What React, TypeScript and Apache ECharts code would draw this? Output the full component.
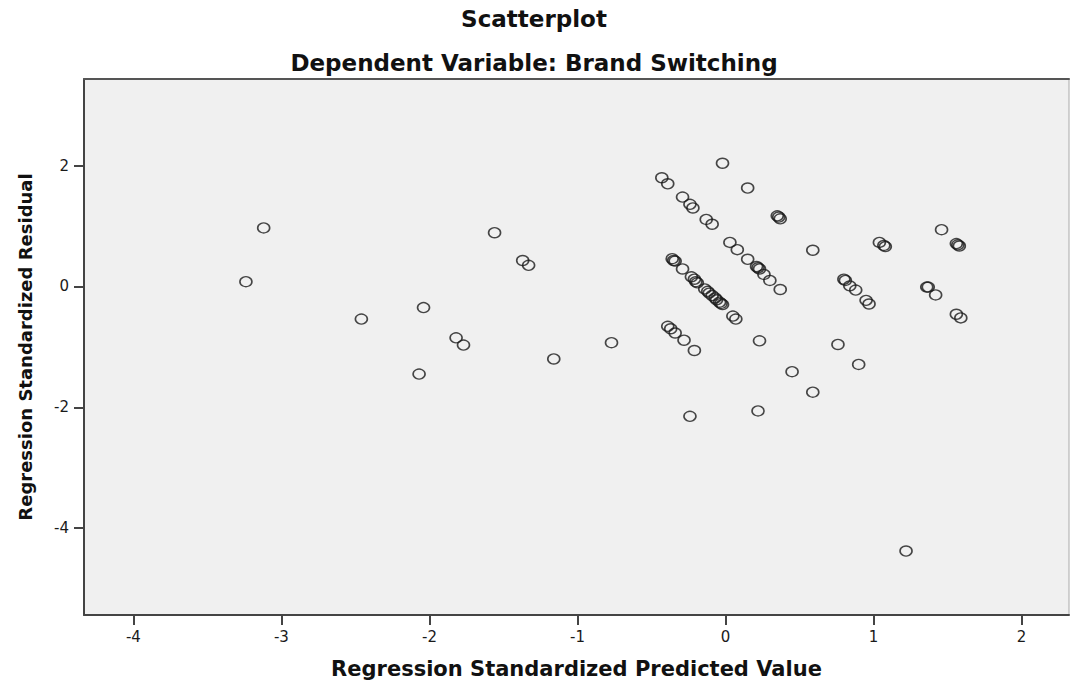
import React, { useEffect, useRef } from "react";
import * as echarts from "echarts";

// Regression Standardized Predicted Value (x)
const predicted: number[] = [
  -3.24, -3.12, -2.46, -2.04, -2.07, -1.82, -1.77, -1.56, -1.37, -1.33, -1.16, -0.77,
  -0.43, -0.39, -0.29, -0.24, -0.22, -0.13, -0.09, -0.02, 0.15, 0.35, 0.37, 0.36,
  0.03, 0.08, 0.15, 0.21, 0.23, 0.22, 0.26, 0.30, 0.37, 0.59,
  -0.36, -0.35, -0.34, -0.29, -0.23, -0.21, -0.20, -0.19, -0.14, -0.12, -0.11, -0.09,
  -0.07, -0.06, -0.04, -0.03, -0.02, 0.05, 0.07,
  -0.39, -0.37, -0.34, -0.28, -0.21,
  0.23, 0.45, -0.24, 0.22, 0.59, 0.76, 0.90, 1.22,
  0.80, 0.81, 0.84, 0.88, 0.95, 0.97, 1.04, 1.07, 1.08, 1.46, 1.36, 1.37, 1.42,
  1.56, 1.57, 1.58, 1.56, 1.59,
];

// Regression Standardized Residual (y)
const residual: number[] = [
  0.08, 0.97, -0.54, -0.35, -1.45, -0.85, -0.97, 0.89, 0.43, 0.35, -1.2, -0.93,
  1.8, 1.7, 1.48, 1.36, 1.3, 1.11, 1.03, 2.04, 1.63, 1.17, 1.12, 1.15,
  0.73, 0.61, 0.45, 0.33, 0.29, 0.31, 0.2, 0.1, -0.05, 0.6,
  0.46, 0.43, 0.42, 0.29, 0.16, 0.12, 0.08, 0.06, -0.04, -0.08, -0.11, -0.15,
  -0.19, -0.22, -0.26, -0.28, -0.3, -0.49, -0.54,
  -0.66, -0.7, -0.77, -0.89, -1.06,
  -0.9, -1.41, -2.15, -2.06, -1.75, -0.96, -1.29, -4.38,
  0.12, 0.1, 0.01, -0.06, -0.23, -0.29, 0.73, 0.68, 0.66, 0.94, -0.01, -0.01, -0.14,
  0.71, 0.69, 0.67, -0.46, -0.52,
];

const xTicks: number[] = [-4, -3, -2, -1, 0, 1, 2];
const yTicks: number[] = [-4, -2, 0, 2];

const chartTitle = "Scatterplot";
const chartSubtitle = "Dependent Variable: Brand Switching";
const xTitle = "Regression Standardized Predicted Value";
const yTitle = "Regression Standardized Residual";

const FONT = "'DejaVu Sans', 'Liberation Sans', Arial, sans-serif";

export default function App() {
  const ref = useRef<HTMLDivElement>(null);

  useEffect(() => {
    if (!ref.current) return;
    const chart = echarts.init(ref.current, undefined, { renderer: "svg" });
    const data = predicted.map((x, i) => [x, residual[i]]);
    const xMin = -4.334;
    const xMax = 2.321;
    chart.setOption({
      animation: false,
      backgroundColor: "#ffffff",
      graphic: [
        {
          type: "text",
          x: 534,
          y: 19,
          style: {
            text: chartTitle,
            fontFamily: FONT,
            fontSize: 23,
            fontWeight: "bold",
            fill: "#111",
            align: "center",
            verticalAlign: "middle",
          },
        },
        {
          type: "text",
          x: 534,
          y: 63,
          style: {
            text: chartSubtitle,
            fontFamily: FONT,
            fontSize: 23,
            fontWeight: "bold",
            fill: "#111",
            align: "center",
            verticalAlign: "middle",
          },
        },
      ],
      grid: {
        left: 84,
        right: 1,
        top: 79,
        bottom: 70,
        show: true,
        backgroundColor: "#f0f0f0",
        borderColor: "#aaa",
        borderWidth: 1,
      },
      xAxis: [
        {
          type: "value",
          min: xMin,
          max: xMax,
          name: xTitle,
          nameLocation: "middle",
          nameGap: 43,
          nameTextStyle: { fontFamily: FONT, fontSize: 21, fontWeight: "bold", color: "#111" },
          axisLine: { show: true, onZero: false, lineStyle: { color: "#444", width: 2 } },
          axisTick: { show: true, length: 10, customValues: xTicks, lineStyle: { color: "#444", width: 2 } },
          axisLabel: {
            customValues: xTicks,
            margin: 14,
            fontFamily: FONT,
            fontSize: 15,
            color: "#1a1a1a",
            formatter: (v: number) => String(v),
          },
          splitLine: { show: false },
        },
        {
          type: "value",
          position: "top",
          min: xMin,
          max: xMax,
          axisLine: { show: true, onZero: false, lineStyle: { color: "#555", width: 2 } },
          axisTick: { show: false },
          axisLabel: { show: false },
          splitLine: { show: false },
        },
      ],
      yAxis: {
        type: "value",
        min: -5.439,
        max: 3.435,
        name: yTitle,
        nameLocation: "middle",
        nameGap: 50,
        nameTextStyle: { fontFamily: FONT, fontSize: 18, fontWeight: "bold", color: "#111" },
        axisLine: { show: true, onZero: false, lineStyle: { color: "#444", width: 2 } },
        axisTick: { show: true, length: 10, customValues: yTicks, lineStyle: { color: "#444", width: 2 } },
        axisLabel: {
          customValues: yTicks,
          margin: 15,
          fontFamily: FONT,
          fontSize: 15,
          color: "#1a1a1a",
          formatter: (v: number) => String(v),
        },
        splitLine: { show: false },
      },
      series: [
        {
          type: "scatter",
          xAxisIndex: 0,
          data,
          symbol: "circle",
          symbolSize: [12, 10],
          itemStyle: {
            color: "rgba(0,0,0,0)",
            borderColor: "#1a1a1a",
            borderWidth: 1.5,
          },
          emphasis: { disabled: true },
        },
      ],
    });
    return () => chart.dispose();
  }, []);

  return (
    <div
      ref={ref}
      style={{ position: "absolute", left: 0, top: 0, width: 1070, height: 685 }}
    />
  );
}
